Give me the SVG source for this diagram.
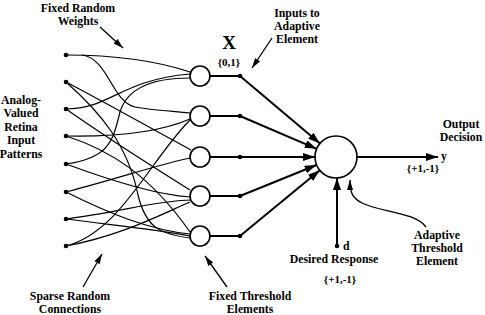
<svg xmlns="http://www.w3.org/2000/svg" width="485" height="315" viewBox="0 0 485 315">
<defs>
<marker id="ah" viewBox="0 0 12 8" refX="12" refY="4" markerWidth="12" markerHeight="8" markerUnits="userSpaceOnUse" orient="auto">
<path d="M0,0 L12,4 L0,8 Z" fill="#000"/>
</marker>
<marker id="ahs" viewBox="0 0 10 6" refX="10" refY="3" markerWidth="10" markerHeight="6" markerUnits="userSpaceOnUse" orient="auto">
<path d="M0,0 L10,3 L0,6 Z" fill="#000"/>
</marker>
</defs>
<style>
text{font-family:"Liberation Serif","Times New Roman",serif;font-weight:bold;font-size:11.8px;fill:#000;text-anchor:middle}
.s{font-size:11px}
.w{fill:none;stroke:#000;stroke-width:1.2}
.a{fill:none;stroke:#000;stroke-width:2}
.t{fill:none;stroke:#000;stroke-width:1.3}
circle.n{fill:#fff;stroke:#000;stroke-width:1.6}
circle.d{fill:#000;stroke:none}
</style>
<rect width="485" height="315" fill="#fff"/>

<g id="connectors">
<!-- random weights -->
<path class="w" d="M66,55 C120,55 160,62 190,72"/>
<path class="w" d="M82,55 C108,58 112,102 135,107 C150,110 170,111 190,113"/>
<path class="w" d="M66,82 C110,105 150,128 191,150"/>
<path class="w" d="M66,82 C100,112 128,145 138,195 C146,228 160,234 190,238"/>
<path class="w" d="M66,109 C110,109 120,80 190,74"/>
<path class="w" d="M66,109 C110,140 150,165 190,190"/>
<path class="w" d="M66,136 C120,137 160,132 190,119"/>
<path class="w" d="M66,136 C110,150 150,175 190,232"/>
<path class="w" d="M66,164 C110,158 113,140 120,112 C128,85 160,78 190,78"/>
<path class="w" d="M66,164 C120,184 160,195 190,197"/>
<path class="w" d="M66,192 C120,178 160,164 190,158"/>
<path class="w" d="M66,192 C110,214 150,230 190,234"/>
<path class="w" d="M66,219 C120,212 160,200 191,200"/>
<path class="w" d="M66,219 C120,226 160,230 190,236"/>
<path class="w" d="M66,246 C120,232 150,160 190,120"/>
<path class="w" d="M66,246 C120,236 160,215 190,202"/>
<!-- hidden to dots -->
<path class="a" d="M210,76 H240 M210,116 H240 M210,157 H240 M210,196 H240 M210,236 H240"/>
<!-- dots to adaptive element -->
<path class="a" d="M240,76 L320,143.5" marker-end="url(#ah)"/>
<path class="a" d="M240,116 L316.7,148.8" marker-end="url(#ah)"/>
<path class="a" d="M240,157 L315,157" marker-end="url(#ah)"/>
<path class="a" d="M240,196 L316.5,165" marker-end="url(#ah)"/>
<path class="a" d="M240,236 L319.8,170.3" marker-end="url(#ah)"/>
<!-- output -->
<path class="a" d="M357,157 L438,157" marker-end="url(#ah)"/>
<!-- desired response -->
<path class="a" d="M337,246 L337,178" marker-end="url(#ah)"/>
<!-- annotation arrows -->
<path class="t" d="M100,27 L123,48" marker-end="url(#ahs)"/>
<path class="t" d="M272,38 L252,68" marker-end="url(#ahs)"/>
<path class="t" d="M83,287 L102,254" marker-end="url(#ahs)"/>
<path class="t" d="M227,287 L205,256" marker-end="url(#ahs)"/>
<path class="t" d="M426,227 C415,212 380,212 362,203 C352,198 350,192 350,180" marker-end="url(#ahs)"/>
</g>

<g id="inputs">
<circle class="d" cx="66" cy="55" r="2.3"/>
<circle class="d" cx="66" cy="82" r="2.3"/>
<circle class="d" cx="66" cy="109" r="2.3"/>
<circle class="d" cx="66" cy="136" r="2.3"/>
<circle class="d" cx="66" cy="164" r="2.3"/>
<circle class="d" cx="66" cy="192" r="2.3"/>
<circle class="d" cx="66" cy="219" r="2.3"/>
<circle class="d" cx="66" cy="246" r="2.3"/>
</g>

<g id="h1"><circle class="n" cx="200" cy="76" r="10"/><circle class="d" cx="240" cy="76" r="2.3"/></g>
<g id="h2"><circle class="n" cx="200" cy="116" r="10"/><circle class="d" cx="240" cy="116" r="2.3"/></g>
<g id="h3"><circle class="n" cx="200" cy="157" r="10"/><circle class="d" cx="240" cy="157" r="2.3"/></g>
<g id="h4"><circle class="n" cx="200" cy="196" r="10"/><circle class="d" cx="240" cy="196" r="2.3"/></g>
<g id="h5"><circle class="n" cx="200" cy="236" r="10"/><circle class="d" cx="240" cy="236" r="2.3"/></g>

<g id="adaptive"><circle class="n" cx="336" cy="157" r="21"/></g>

<g id="desired"><circle class="d" cx="337" cy="246" r="2.3"/>
<text x="343" y="250" style="text-anchor:start">d</text>
<text x="334" y="263">Desired Response</text>
<text x="340" y="283" class="s">{+1,-1}</text>
</g>

<g id="labels">
<text x="78" y="12">Fixed Random</text>
<text x="78" y="25">Weights</text>
<text x="297" y="17">Inputs to</text>
<text x="297" y="30">Adaptive</text>
<text x="297" y="43">Element</text>
<text x="229" y="49" style="font-size:19px">X</text>
<text x="229" y="66" class="s">{0,1}</text>
<text x="21" y="104">Analog-</text>
<text x="21" y="117">Valued</text>
<text x="21" y="131">Retina</text>
<text x="21" y="144">Input</text>
<text x="21" y="158">Patterns</text>
<text x="461" y="128">Output</text>
<text x="461" y="141">Decision</text>
<text x="441" y="160" style="text-anchor:start">y</text>
<text x="423" y="172" class="s">{+1,-1}</text>
<text x="437" y="239">Adaptive</text>
<text x="437" y="252">Threshold</text>
<text x="437" y="265">Element</text>
<text x="70" y="300">Sparse Random</text>
<text x="70" y="313">Connections</text>
<text x="250" y="300">Fixed Threshold</text>
<text x="250" y="313">Elements</text>
</g>
</svg>
